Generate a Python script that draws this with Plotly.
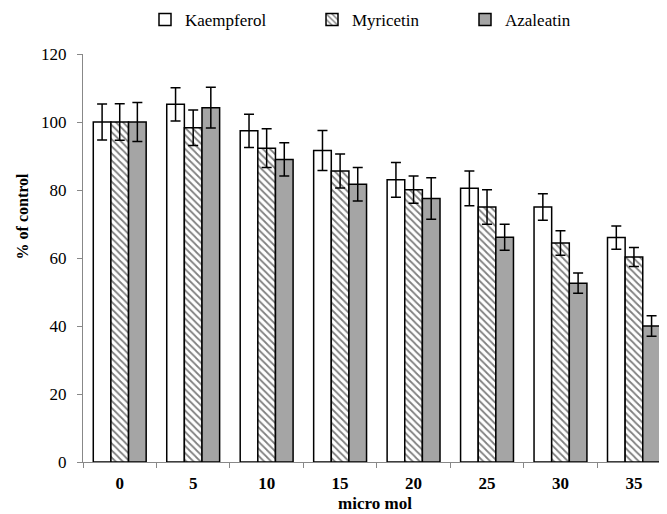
import plotly.graph_objects as go

categories = ["0", "5", "10", "15", "20", "25", "30", "35"]
kaempferol = [100, 105.2, 97.4, 91.6, 83.0, 80.5, 75.0, 66.0]
kaempferol_err = [5.3, 4.9, 4.9, 5.9, 5.1, 5.1, 3.9, 3.4]
myricetin = [100, 98.3, 92.3, 85.6, 80.1, 75.0, 64.4, 60.3]
myricetin_err = [5.4, 5.2, 5.7, 5.0, 4.0, 5.1, 3.6, 2.8]
azaleatin = [100, 104.2, 89.0, 81.7, 77.5, 66.1, 52.6, 40.0]
azaleatin_err = [5.7, 6.0, 4.9, 4.9, 6.1, 3.8, 3.0, 3.0]

serif = "'Liberation Serif', 'Times New Roman', Times, 'DejaVu Serif', serif"
line = dict(color="black", width=1.5)
err_style = dict(type="data", visible=True, color="black", thickness=1.5, width=5)

# page body has an 8px default margin, so the figure is sized to fit the window
W, H = 659, 506
L, T, B = 74.7, 46, 52.3
PW, PH = W - L, H - T - B

fig = go.Figure()
fig.add_trace(go.Bar(
    name="Kaempferol", x=categories, y=kaempferol, legend="legend",
    error_y=dict(array=kaempferol_err, **err_style),
    marker=dict(color="white", line=line),
))
fig.add_trace(go.Bar(
    name="Myricetin", x=categories, y=myricetin, legend="legend2",
    error_y=dict(array=myricetin_err, **err_style),
    marker=dict(color="white", line=line,
                pattern=dict(shape="\\", fgcolor="black", bgcolor="white",
                             size=5, solidity=0.35)),
))
fig.add_trace(go.Bar(
    name="Azaleatin", x=categories, y=azaleatin, legend="legend3",
    error_y=dict(array=azaleatin_err, **err_style),
    marker=dict(color="#a5a5a5", line=line),
))

def leg(x):
    return dict(x=x / W, xref="container", xanchor="left", y=1 - 12 / H, yref="container",
                yanchor="middle", font=dict(family=serif, size=17, color="black"),
                itemwidth=30, bgcolor="rgba(0,0,0,0)", borderwidth=0)

fig.update_layout(
    width=W, height=H,
    margin=dict(l=L, r=0, t=T, b=B, autoexpand=False),
    plot_bgcolor="white", paper_bgcolor="white",
    barmode="group", bargap=0.28, bargroupgap=0,
    font=dict(family=serif, size=16, color="black"),
    showlegend=True,
    legend=leg(137),
    legend2=leg(304),
    legend3=leg(457),
    xaxis=dict(
        type="category", range=[-0.5, 7.45],
        showline=True, linecolor="#888888", linewidth=1,
        ticks="outside", tickson="boundaries", tickcolor="#888888", ticklen=5,
        ticklabelstandoff=6,
        tickfont=dict(family=serif, size=17, weight="bold"),
        title=dict(text="micro mol", font=dict(family=serif, size=17, weight="bold"), standoff=4),
        showgrid=False,
    ),
    yaxis=dict(
        range=[0, 120], tickvals=[0, 20, 40, 60, 80, 100, 120],
        showline=True, linecolor="#888888", linewidth=1,
        ticks="outside", tickcolor="#888888", ticklen=5,
        ticklabelstandoff=7,
        tickfont=dict(family=serif, size=17),
        showgrid=False, zeroline=False,
    ),
    annotations=[dict(
        text="% of control", textangle=-90, showarrow=False,
        xref="paper", x=-(L - 14) / PW, xanchor="center",
        yref="paper", y=(H - B - 208) / PH, yanchor="middle",
        font=dict(family=serif, size=16, weight="bold", color="black"),
    )],
)

fig.write_html("out.html")
